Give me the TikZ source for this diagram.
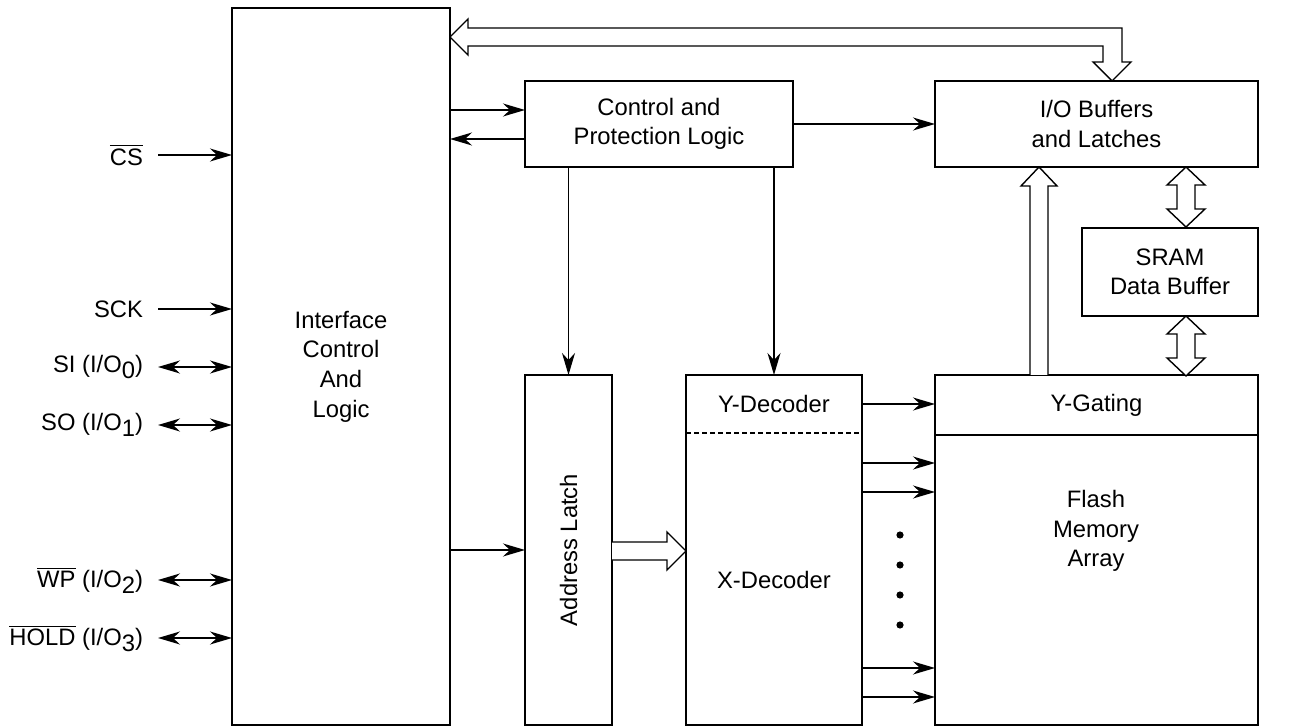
\documentclass[tikz,border=0pt]{standalone}
\usepackage{fontspec}
\usepackage{graphicx}
\setmainfont{Liberation Sans}
\usetikzlibrary{arrows.meta}

\newcommand\pinsub[1]{\raisebox{-0.45ex}{#1}}

\begin{document}
\begin{tikzpicture}[
    x=0.5pt, y=-0.5pt,
    font=\fontsize{11.9}{14.8}\selectfont,
    blk/.style={draw, line width=1.4pt, inner sep=0pt, outer sep=0pt,
                anchor=north west, align=center},
    sig/.style={line width=0.7pt, -{Stealth[length=11pt,width=6.5pt,inset=3.5pt]}},
    sigboth/.style={line width=0.7pt,
                {Stealth[length=11pt,width=6.5pt,inset=3.5pt]}-{Stealth[length=11pt,width=6.5pt,inset=3.5pt]}},
    pinlbl/.style={anchor=east, inner sep=0pt, outer xsep=7.5pt},
    bus/.style={draw, line width=0.7pt, fill=white, line join=miter},
    dblarrow/.pic={\draw[bus] (0,0) -- (19,18) -- (9,18) -- (9,42) -- (19,42) -- (0,60)
                     -- (-19,42) -- (-9,42) -- (-9,18) -- (-19,18) -- cycle;}]

    \useasboundingbox (0,0) rectangle (1292,727);

    %% ---- blocks (pixel grid of the sheet, y downwards) ----
    \node[blk, minimum width=109pt, minimum height=358.5pt] (intf) at (232,8)
      {Interface\\Control\\And\\Logic};
    \node[blk, minimum width=134pt, minimum height=43pt] (ctrl) at (525,81)
      {Control and\\Protection Logic};
    \node[blk, minimum width=161.5pt, minimum height=43pt] (iobuf) at (935,81)
      {I/O Buffers\\and Latches};
    \node[blk, minimum width=88pt, minimum height=44pt] (sram) at (1082,228)
      {SRAM\\Data Buffer};
    \node[blk, minimum width=161.5pt, minimum height=30pt] (ygate) at (935,375)
      {Y-Gating};
    \node[blk, minimum width=161.5pt, minimum height=145pt] (array) at (935,435) {};
    \node[align=center] (arraytxt) at (1096,531) {Flash\\Memory\\Array};
    \node[blk, minimum width=43.5pt, minimum height=175pt] (addr) at (525,375)
      {\rotatebox{90}{Address Latch}};
    \node[blk, minimum width=88pt, minimum height=175pt] (dec) at (686,375) {};
    \node (ydec) at (774,404) {Y-Decoder};
    \node (xdec) at (774,580) {X-Decoder};
    \draw[line width=1.4pt, dash pattern=on 2.5pt off 1.5pt]
      (dec.west |- 0,433) -- (dec.east |- 0,433);

    %% ---- pins ----
    \node[pinlbl] (cs)   at (158,155) {$\overline{\mbox{CS}}$};
    \node[pinlbl] (sck)  at (158,309) {SCK};
    \node[pinlbl] (si)   at (158,367) {SI (I/O\pinsub{0})};
    \node[pinlbl] (so)   at (158,425) {SO (I/O\pinsub{1})};
    \node[pinlbl] (wp)   at (158,580) {$\overline{\mbox{WP}}$ (I/O\pinsub{2})};
    \node[pinlbl] (hold) at (158,638) {$\overline{\mbox{HOLD}}$ (I/O\pinsub{3})};
    \draw[sig] (cs.east) -- (cs -| intf.west);
    \draw[sig] (sck.east) -- (sck -| intf.west);
    \draw[sigboth] (si.east) -- (si -| intf.west);
    \draw[sigboth] (so.east) -- (so -| intf.west);
    \draw[sigboth] (wp.east) -- (wp -| intf.west);
    \draw[sigboth] (hold.east) -- (hold -| intf.west);

    %% ---- control signals ----
    \draw[sig] (intf.east |- 0,110) -- (ctrl.west |- 0,110);
    \draw[sig] (ctrl.west |- 0,139) -- (intf.east |- 0,139);
    \draw[sig] (ctrl.east) -- (iobuf.west);
    \draw[sig] (ctrl.south -| addr.north) -- (addr.north);
    \draw[sig] (ctrl.south -| dec.north) -- (dec.north);
    \draw[sig] (intf.east |- addr.west) -- (addr.west);
    \draw[sig] (dec.east |- ydec) -- (ygate.west |- ydec);
    \foreach \y in {463,492,668,697}
      \draw[sig] (dec.east |- 0,\y) -- (array.west |- 0,\y);
    \foreach \y in {535,565,595,625}
      \fill (900,\y) circle (1.8pt);

    %% ---- wide data paths ----
    \draw[bus] (intf.east |- 0,37) -- (468,19) -- (468,28) -- (1122,28) -- (1122,62)
      -- (1131,62) -- (iobuf.north -| 1112,0) -- (1093,62) -- (1103,62) -- (1103,46)
      -- (468,46) -- (468,55) -- cycle;
    \draw[bus] (addr.east |- 0,542) -- (667,542) -- (667,532) -- (dec.west |- 0,551)
      -- (667,570) -- (667,560) -- (addr.east |- 0,560);
    \draw[bus] (ygate.north -| 1030,0) -- (1030,186) -- (1021,186)
      -- (iobuf.south -| 1039,0) -- (1057,186) -- (1048,186) -- (ygate.north -| 1048,0);
    \pic at (iobuf.south -| 1186,0) {dblarrow};
    \pic at (sram.south -| 1186,0) {dblarrow};
\end{tikzpicture}
\end{document}
